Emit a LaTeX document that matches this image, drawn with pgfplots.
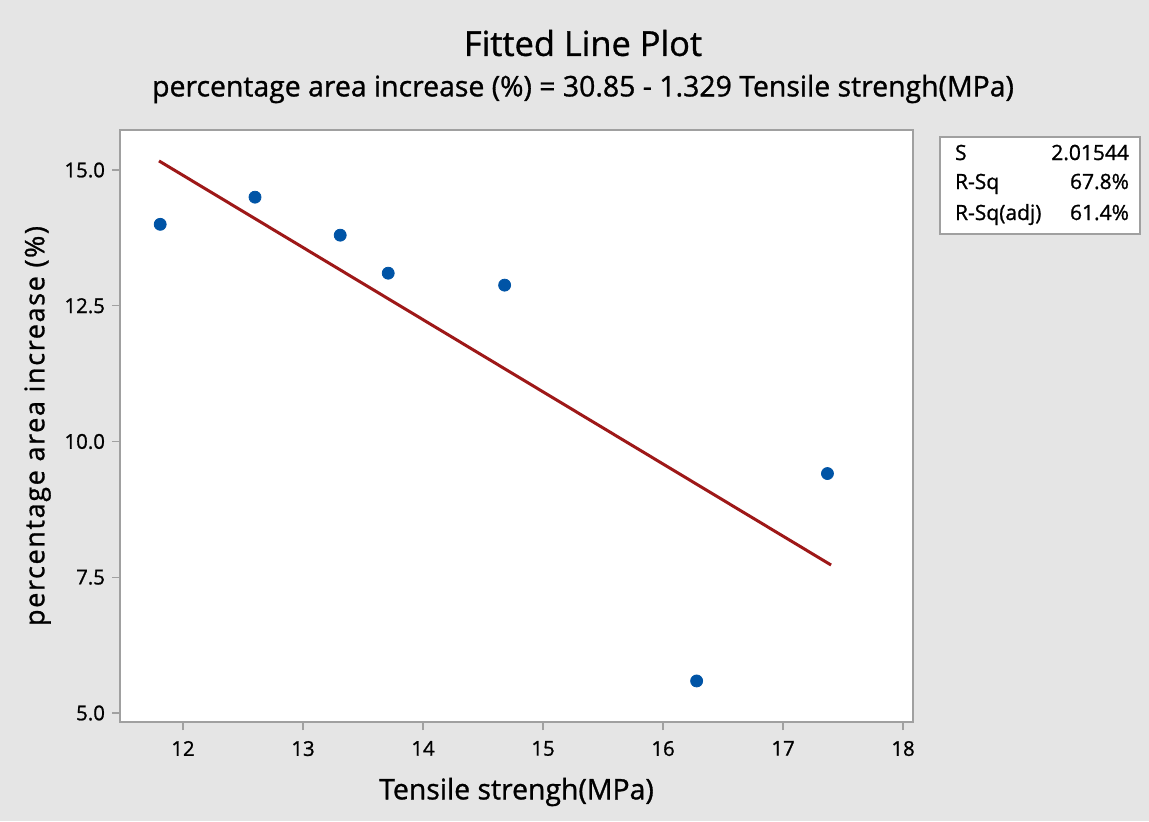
\documentclass[border=0pt]{standalone}
\usepackage{pgfplots}
\pgfplotsset{compat=1.18}
\usepackage{fontspec}
\setmainfont{Open Sans}[FakeBold=1]
\definecolor{bgray}{RGB}{229,229,229}
\definecolor{ptblue}{RGB}{0,84,166}
\definecolor{fitred}{RGB}{158,24,24}
\definecolor{axgray}{RGB}{160,160,160}
\begin{document}
\begin{tikzpicture}
\fill[bgray] (0,0) rectangle (574.5pt,410.5pt);
\node[font=\fontsize{17.2}{19}\selectfont] at (291.5pt,389pt) {Fitted Line Plot};
\node[font=\fontsize{14.2}{16}\selectfont] at (291.5pt,366pt) {percentage area increase (\%) = 30.85 - 1.329 Tensile strengh(MPa)};
\begin{axis}[
  at={(60pt,49.5pt)}, anchor=south west,
  scale only axis, width=396.5pt, height=296pt,
  xmin=11.475, xmax=18.083, ymin=4.834, ymax=15.737,
  axis background/.style={fill=white},
  axis line style={axgray, line width=0.8pt},
  tick align=outside, tick style={axgray, line width=0.6pt}, major tick length=4pt,
  xtick={12,13,14,15,16,17,18},
  ytick={5,7.5,10,12.5,15},
  yticklabel style={/pgf/number format/fixed, /pgf/number format/fixed zerofill, /pgf/number format/precision=1},
  xticklabel style={yshift=-2pt},
  /pgf/number format/assume math mode=true,
  ticklabel style={font=\fontsize{10.2}{11}\selectfont},
  xtick pos=bottom, ytick pos=left,
  xlabel={Tensile strengh(MPa)},
  ylabel={\addfontfeature{LetterSpace=6}percentage area increase (\%)},
  xlabel style={font=\fontsize{14.2}{16}\selectfont, yshift=-4pt},
  ylabel style={font=\fontsize{13.5}{15}\selectfont},
  clip=false,
]
\addplot[fitred, line width=1.5pt] coordinates {(11.8,15.1678) (17.4,7.7254)};
\addplot[only marks, mark=*, mark size=3pt, ptblue, mark options={draw=ptblue, fill=ptblue}] coordinates {
(11.81,14.0) (12.6,14.5) (13.31,13.8) (13.71,13.1) (14.68,12.88) (16.28,5.59) (17.37,9.41)};
\end{axis}
\draw[axgray, fill=white, line width=0.6pt] (470pt,293.5pt) rectangle (570pt,342pt);
\begin{scope}[font=\fontsize{10.5}{11}\selectfont]
\node[anchor=base west] at (474pt,330.5pt) {S};
\node[anchor=base west] at (474pt,316pt) {R-Sq};
\node[anchor=base west] at (474pt,300.5pt) {R-Sq(adj)};
\node[anchor=base east] at (568pt,330.5pt) {2.01544};
\node[anchor=base east] at (568pt,316pt) {67.8\%};
\node[anchor=base east] at (568pt,300.5pt) {61.4\%};
\end{scope}
\end{tikzpicture}
\end{document}
